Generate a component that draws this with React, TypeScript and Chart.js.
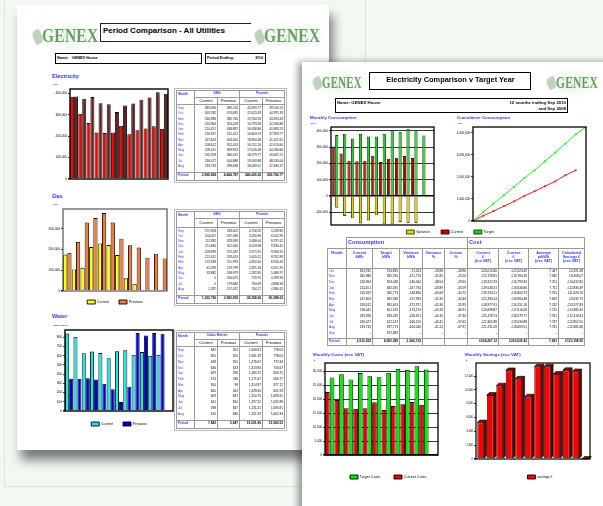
import React, { useEffect, useRef } from "react";
import { Chart, registerables } from "chart.js";
Chart.register(...registerables);

// ================= DATA =================
// Left page – Period Comparison
const utilMonths = ["Sep", "Oct", "Nov", "Dec", "Jan", "Feb", "Mar", "Apr", "May", "Jun", "Jul", "Aug"];
const utilAxisLabels = ["9/09", "10/09", "11/09", "12/09", "1/10", "2/10", "3/10", "4/10", "5/10", "6/10", "7/10", "8/10"];
const waterAxisLabels = ["9/09", "10/09", "11/09", "12/09", "1/10", "2/10", "3/10", "4/10", "5/10", "6/10", "7/10", "8/10", "9/10"];

const elecCurrent = [383566, 303782, 260986, 216964, 214451, 216947, 247603, 208612, 228041, 235928, 246027, 233733];
const elecPrevious = [385216, 374835, 382760, 353028, 348887, 312412, 343300, 352453, 369953, 380031, 404884, 396838];
const elecPoundsCurrent = [45990.77, 22623.49, 19764.18, 16793.33, 16636.86, 16803.73, 18964.48, 16151.16, 17616.08, 18279.77, 19034.88, 18069.01];
const elecPoundsPrevious = [39556.13, 44991.33, 43494.43, 42266.88, 41893.23, 37909.77, 41421.61, 42413.6, 44280.84, 45647.21, 48530.06, 47480.37];
const elecTotals = ["2,995,808", "4,404,787", "246,629.20", "505,766.77"];

const gasCurrent = [175908, 104007, 111982, 211866, 228969, 221611, 172948, 61099, 33882, 0, 0, 1287];
const gasPrevious = [183605, 237080, 329369, 351060, 375187, 329453, 251993, 219799, 208979, 160675, 179682, 157037];
const gasPoundsCurrent = [4756.59, 3230.96, 3368.04, 6019.68, 5971.91, 5620.11, 4692.6, 1691.33, 1282.85, 719.7, 763.69, 764.17];
const gasPoundsPrevious = [5239.85, 6502.96, 8797.42, 9330.45, 9946.31, 8702.98, 6916.43, 6651.95, 5486.97, 4399.33, 4838.34, 4380.45];
const gasTotals = ["1,322,790", "2,983,835", "38,258.66", "80,288.63"];

const waterCurrent = [842, 805, 628, 646, 629, 574, 650, 660, 609, 641, 598, 610];
const waterPrevious = [350, 350, 355, 343, 296, 236, 98, 264, 847, 820, 847, 840];
const waterPoundsCurrent = [1608.31, 1581.19, 1276.67, 1313.9, 1280.72, 1171.67, 1314.97, 1328.35, 1250.75, 1297.22, 1231.31, 1251.59];
const waterPoundsPrevious = [778.03, 778.03, 772.34, 756.67, 656.75, 566.77, 377.12, 661.93, 1690.91, 1635.98, 1690.91, 1662.33];
const waterTotals = ["7,882", "5,687", "15,001.80", "12,060.53"];

const elecTicks = [0, 100000, 200000, 300000, 400000];
const gasTicks = [0, 100000, 200000, 300000];
const waterTicks = [0, 100, 200, 300, 400, 500, 600, 700, 800];

// Right page – Electricity Comparison v Target Year
const targetMonths = ["Oct", "Nov", "Dec", "Jan", "Feb", "Mar", "Apr", "May", "Jun", "Jul", "Aug", "Sep"];
const targetAxisLabels = ["10/09", "11/09", "12/09", "1/10", "2/10", "3/10", "4/10", "5/10", "6/10", "7/10", "8/10", "9/10"];
const consumptionAxisLabels = ["10/09", "11/09", "12/09", "1/10", "2/10", "3/10", "4/10", "5/10", "6/10", "7/10", "8/10", "9/10", "10/10"];

const currentKwh = [303782, 260986, 216964, 214451, 216947, 247603, 208612, 228041, 235928, 246027, 233733, null];
const targetKwh = [374835, 382760, 353028, 382185, 365773, 365536, 381403, 401315, 394249, 412147, 397773, 372383];
const varianceKwh = [-71053, -121774, -136064, -167734, -148826, -117933, -172791, -173274, -158321, -166120, -164040, null];
const variancePct = [-18.96, -31.82, -38.54, -43.89, -40.69, -32.26, -45.3, -43.18, -40.16, -40.31, -41.24, null];
const cusumPct = [-18.96, -25.5, -29.65, -33.29, -34.75, -34.34, -35.95, -36.91, -37.3, -37.62, -37.97, null];
const costIncVat = [26015.8, 22728.81, 19312.33, 19548.31, 19743.21, 22283.24, 18977.61, 20698.87, 21478.73, 22365.98, 21231.09, null];
const costExcVat = [22623.49, 19764.18, 16793.33, 16636.86, 16803.73, 18964.48, 16151.16, 17616.08, 18279.77, 19034.88, 18069.01, null];
const avgPence = [7.447, 7.585, 7.701, 7.711, 7.755, 7.659, 7.742, 7.725, 7.761, 7.737, 7.731, null];
const savings = [5291.28, 9268.07, 10632.81, 12836.39, 11626.7, 9032.73, 13377.83, 13385.34, 12318.43, 12852.55, 12681.68, null];
const targetTotals = ["2,612,262", "4,583,389", "-1,966,732", "", "", "£234,267.12", "£200,635.43", "7.681", "£123,198.95"];

const targetCosts = [27914, 29032, 27187, 29470, 28366, 27997, 29528, 31001, 30598, 31888, 30752, null];

const cumLabels = ["10/09", "11/09", "12/09", "1/10", "2/10", "3/10", "4/10", "5/10", "6/10", "7/10", "8/10", "9/10"];
const cumTarget = [0, 410000, 790000, 1170000, 1550000, 1950000, 2300000, 2710000, 3110000, 3520000, 3940000, 4270000];
const cumCurrent = [0, 240000, 450000, 670000, 890000, 1140000, 1350000, 1580000, 1800000, 2080000, 2300000, null];

const consumptionTicks = [-100000, 0, 100000, 200000, 300000, 400000];
const cumTicks = [0, 1000000, 2000000, 3000000, 4000000];
const costTicks = [0, 5000, 10000, 15000, 20000, 25000, 30000];
const savingTicks = [0, 2000, 4000, 6000, 8000, 10000, 12000];

// ================= HELPERS =================
const SANS = '"Liberation Sans", Arial, sans-serif';
const BLUE = "#3535ff";
const nf0 = new Intl.NumberFormat("en-GB", { maximumFractionDigits: 0 });
const nf2 = new Intl.NumberFormat("en-GB", { minimumFractionDigits: 2, maximumFractionDigits: 2 });
const nf3 = new Intl.NumberFormat("en-GB", { minimumFractionDigits: 3, maximumFractionDigits: 3 });

const framePlugin = {
  id: "frame",
  afterDraw(chart: any, _a: any, opts: any) {
    if (!opts || !opts.color) return;
    const { left, top, right, bottom } = chart.chartArea;
    const ctx = chart.ctx;
    ctx.save();
    ctx.strokeStyle = opts.color;
    ctx.lineWidth = opts.width || 1;
    ctx.strokeRect(left, top, right - left, bottom - top);
    ctx.restore();
  },
};

const legendPlace = {
  id: "legendPlace",
  afterLayout(chart: any, _a: any, opts: any) {
    const lg = chart.legend;
    if (!lg || !opts || opts.cx == null) return;
    const lo = lg.options.labels;
    const fs = (lo.font && lo.font.size) || 4;
    const itemH = Math.max(fs, lo.boxHeight || fs);
    const dx = opts.cx - (lg.left + lg.right) / 2;
    const dy = opts.cy - (lg.top + lo.padding + itemH / 2);
    lg.left += dx;
    lg.right += dx;
    lg.top += dy;
    lg.bottom += dy;
  },
};

const bar3d = {
  id: "bar3d",
  afterDatasetsDraw(chart: any, _a: any, opts: any) {
    if (!opts || !opts.depth) return;
    const meta = chart.getDatasetMeta(0);
    const ctx = chart.ctx;
    const d = opts.depth;
    ctx.save();
    ctx.strokeStyle = "#000";
    ctx.lineWidth = 0.6;
    meta.data.forEach((bar: any) => {
      const { x, y, base, width } = bar.getProps(["x", "y", "base", "width"], true);
      if (y == null || isNaN(y)) return;
      const l = x - width / 2;
      const r = x + width / 2;
      ctx.fillStyle = opts.top;
      ctx.beginPath();
      ctx.moveTo(l, y);
      ctx.lineTo(l + d, y - d);
      ctx.lineTo(r + d, y - d);
      ctx.lineTo(r, y);
      ctx.closePath();
      ctx.fill();
      ctx.stroke();
      ctx.fillStyle = opts.side;
      ctx.beginPath();
      ctx.moveTo(r, y);
      ctx.lineTo(r + d, y - d);
      ctx.lineTo(r + d, base - d);
      ctx.lineTo(r, base);
      ctx.closePath();
      ctx.fill();
      ctx.stroke();
    });
    ctx.restore();
  },
};

Chart.register(framePlugin, legendPlace, bar3d);

type AxisOpts = {
  labels: string[];
  every: number; // 1 = every label, 2 = odd indexes
  yTicks: number[];
  yMin: number;
  yMax: number;
  yw: number;
  xh: number;
  fs: number;
  grid?: boolean;
  stacked?: boolean;
};

function makeScales(o: AxisOpts) {
  return {
    x: {
      offset: true,
      stacked: !!o.stacked,
      grid: { display: false },
      border: { display: false },
      ticks: {
        autoSkip: false,
        maxRotation: 0,
        minRotation: 0,
        padding: 1,
        color: "#000",
        font: { size: o.fs, family: SANS },
        callback: (_v: any, i: number) => (o.every === 1 || i % 2 === 1 ? o.labels[i] : ""),
      },
      afterFit: (s: any) => {
        s.height = o.xh;
      },
    },
    y: {
      min: o.yMin,
      max: o.yMax,
      stacked: !!o.stacked,
      afterBuildTicks: (s: any) => {
        s.ticks = o.yTicks.map((v) => ({ value: v }));
      },
      grid: {
        display: true,
        drawOnChartArea: !!o.grid,
        drawTicks: true,
        tickLength: 2,
        color: "#000",
        lineWidth: (c: any) => (c.tick && c.tick.value === 0 ? 1.4 : 0.8),
      },
      border: { display: false },
      ticks: {
        padding: 1,
        color: "#000",
        font: { size: o.fs, family: SANS },
        callback: (v: any) => nf0.format(Number(v)),
      },
      afterFit: (s: any) => {
        s.width = o.yw;
      },
    },
  };
}

function legendOpts(cx: number, cy: number, pad: number, fs = 4) {
  return {
    legend: {
      display: true,
      position: "bottom",
      labels: { boxWidth: 8, boxHeight: 4, padding: pad, color: "#000", font: { size: fs, family: SANS } },
    },
    legendPlace: { cx, cy },
  };
}

function ChartBox({ x, y, w, h, config }: { x: number; y: number; w: number; h: number; config: any }) {
  const ref = useRef<HTMLCanvasElement>(null);
  useEffect(() => {
    const chart = new Chart(ref.current as HTMLCanvasElement, config);
    return () => chart.destroy();
  }, []);
  return (
    <div style={{ position: "absolute", left: x, top: y, width: w, height: h }}>
      <canvas ref={ref} width={w} height={h} style={{ width: w, height: h, display: "block" }} />
    </div>
  );
}

function barDs(label: string, data: any[], bg: string, border = "#000", extra: any = {}) {
  return { label, data, backgroundColor: bg, borderColor: border, borderWidth: 0.9, ...extra };
}

function baseOptions(scales: any, padding: any, plugins: any) {
  return {
    responsive: false,
    maintainAspectRatio: false,
    animation: false,
    layout: { padding },
    scales,
    plugins: { tooltip: { enabled: false }, ...plugins },
  };
}

// ---------- chart configs ----------
const pairBars = { categoryPercentage: 0.97, barPercentage: 1.0 };

const elecConfig = {
  type: "bar",
  data: {
    labels: utilAxisLabels,
    datasets: [barDs("Current", elecCurrent, "#ff0000", "#000", pairBars), barDs("Previous", elecPrevious, "#642222", "#000", pairBars)],
  },
  options: baseOptions(
    makeScales({ labels: utilAxisLabels, every: 2, yTicks: elecTicks, yMin: 0, yMax: 420000, yw: 26, xh: 7, fs: 3.2 }),
    { top: 3, right: 4, left: 0, bottom: 0 },
    { legend: { display: false }, frame: { color: "#000", width: 1.4 } }
  ),
};

const gasConfig = {
  type: "bar",
  data: {
    labels: utilAxisLabels,
    datasets: [barDs("Current", gasCurrent, "#ffff00", "#000", pairBars), barDs("Previous", gasPrevious, "#f47a3c", "#000", pairBars)],
  },
  options: baseOptions(
    makeScales({ labels: utilAxisLabels, every: 2, yTicks: gasTicks, yMin: 0, yMax: 395000, yw: 23, xh: 7, fs: 3.2 }),
    { top: 5, right: 5, left: 0, bottom: 0 },
    { ...legendOpts(75, 98, 10, 3.6), frame: { color: "#555", width: 1.2 } }
  ),
};

const waterConfig = {
  type: "bar",
  data: {
    labels: waterAxisLabels,
    datasets: [barDs("Current", waterCurrent, "#1fe6e6", "#000", pairBars), barDs("Previous", waterPrevious, "#0000e0", "#000", pairBars)],
  },
  options: baseOptions(
    makeScales({ labels: waterAxisLabels, every: 2, yTicks: waterTicks, yMin: 0, yMax: 880, yw: 23, xh: 7, fs: 3.2 }),
    { top: 5, right: 3, left: 0, bottom: 0 },
    { ...legendOpts(77, 99, 10, 3.6), frame: { color: "#000", width: 1.4 } }
  ),
};

const consBars = { categoryPercentage: 0.9, barPercentage: 0.9 };
const consumptionConfig = {
  type: "bar",
  data: {
    labels: consumptionAxisLabels,
    datasets: [
      barDs("Current", currentKwh, "#c00000", "#3a0000", { ...consBars, stack: "cur" }),
      barDs("Target", targetKwh, "#22cc22", "#004400", { ...consBars, stack: "tgt" }),
      barDs("Variance", varianceKwh, "#d6d600", "#3a3a00", { ...consBars, stack: "tgt" }),
    ],
  },
  options: baseOptions(
    makeScales({
      labels: consumptionAxisLabels,
      every: 2,
      yTicks: consumptionTicks,
      yMin: -177000,
      yMax: 424000,
      yw: 25,
      xh: 6,
      fs: 3.2,
      grid: true,
      stacked: true,
    }),
    { top: 5, right: 76, left: 0, bottom: 0 },
    {
      legend: {
        display: true,
        position: "bottom",
        labels: {
          boxWidth: 8,
          boxHeight: 4,
          padding: 11,
          color: "#000",
          font: { size: 3.6, family: SANS },
          sort: (a: any, b: any) => {
            const order = ["Variance", "Current", "Target"];
            return order.indexOf(a.text) - order.indexOf(b.text);
          },
        },
      },
      legendPlace: { cx: 144, cy: 110 },
      frame: { color: "#000", width: 1.3 },
    }
  ),
};

const cumulativeConfig = {
  type: "line",
  data: {
    labels: cumLabels,
    datasets: [
      {
        label: "Target",
        data: cumTarget,
        borderColor: "#22ee22",
        backgroundColor: "#22ee22",
        borderWidth: 1,
        pointStyle: "rect",
        pointRadius: (c: any) => (c.dataIndex === 0 ? 0 : 1.3),
        pointBorderWidth: 0,
      },
      {
        label: "Current",
        data: cumCurrent,
        borderColor: "#ee2222",
        backgroundColor: "#ee2222",
        borderWidth: 1,
        pointStyle: "rect",
        pointRadius: (c: any) => (c.dataIndex === 0 ? 0 : 1.3),
        pointBorderWidth: 0,
      },
    ],
  },
  options: (() => {
    const sc: any = makeScales({ labels: cumLabels, every: 2, yTicks: cumTicks, yMin: 0, yMax: 4270000, yw: 23, xh: 7, fs: 3 });
    sc.x.offset = false;
    return baseOptions(sc, { top: 5, right: 4, left: 0, bottom: 0 }, { legend: { display: false }, frame: { color: "#000", width: 1.3 } });
  })(),
};

const costsConfig = {
  type: "bar",
  data: {
    labels: targetAxisLabels,
    datasets: [
      barDs("Current Costs", costExcVat, "#ee0000", "#000", { categoryPercentage: 1.0, barPercentage: 0.98 }),
      barDs("Target Costs", targetCosts, "#00ee00", "#000", { categoryPercentage: 1.0, barPercentage: 0.98 }),
    ],
  },
  options: baseOptions(
    makeScales({ labels: targetAxisLabels, every: 2, yTicks: costTicks, yMin: 0, yMax: 33100, yw: 20, xh: 6, fs: 3, grid: true }),
    { top: 5, right: 5, left: 0, bottom: 0 },
    {
      legend: {
        display: true,
        position: "bottom",
        reverse: true,
        labels: { boxWidth: 8, boxHeight: 4, padding: 14, color: "#000", font: { size: 3.6, family: SANS } },
      },
      legendPlace: { cx: 83, cy: 119 },
      frame: { color: "#000", width: 1.3 },
    }
  ),
};

const savingsConfig = {
  type: "bar",
  data: {
    labels: targetAxisLabels,
    datasets: [barDs("savings £", savings, "#ff0000", "#000", { categoryPercentage: 1.0, barPercentage: 0.72 })],
  },
  options: baseOptions(
    makeScales({ labels: targetAxisLabels, every: 1, yTicks: savingTicks, yMin: 0, yMax: 13900, yw: 21, xh: 6, fs: 2.6 }),
    { top: 5, right: 5, left: 0, bottom: 0 },
    {
      ...legendOpts(85, 119, 10, 3.6),
      frame: { color: "#000", width: 1.2 },
      bar3d: { depth: 2.4, top: "#a00000", side: "#6a0000" },
    }
  ),
};

// ================= HTML PIECES =================
function Txt({ x, y, s, children, bold, color = "#000", align = "left", w, family = SANS }: any) {
  const style: any = {
    position: "absolute",
    top: y,
    fontSize: s,
    lineHeight: 1,
    fontWeight: bold ? 700 : 400,
    color,
    fontFamily: family,
    whiteSpace: "nowrap",
  };
  if (align === "right") {
    style.right = 603 - x;
  } else if (align === "center") {
    style.left = x;
    style.width = w;
    style.textAlign = "center";
  } else style.left = x;
  return <div style={style}>{children}</div>;
}

function Logo({ x, y, fs, sx }: { x: number; y: number; fs: number; sx: number }) {
  return (
    <div style={{ position: "absolute", left: x, top: y }}>
      <div
        style={{
          position: "absolute",
          left: -12,
          top: -7,
          width: fs * 3.4 * sx + 22,
          height: fs + 14,
          background: "radial-gradient(ellipse at center, rgba(215,230,212,0.6) 0%, rgba(238,244,236,0.35) 55%, rgba(255,255,255,0) 75%)",
        }}
      />
      <div
        style={{
          position: "absolute",
          left: -9,
          top: fs * 0.15,
          width: 9,
          height: fs * 0.75,
          borderRadius: "50% 0 50% 0",
          background: "rgba(90,130,80,0.35)",
          transform: "rotate(-25deg)",
          filter: "blur(0.6px)",
        }}
      />
      <div
        style={{
          position: "relative",
          fontFamily: '"Liberation Serif", "DejaVu Serif", serif',
          fontWeight: 700,
          fontSize: fs,
          lineHeight: 1,
          color: "#4e8a46",
          opacity: 0.82,
          transform: `scaleX(${sx})`,
          transformOrigin: "left top",
          filter: "blur(0.35px)",
          letterSpacing: 0.3,
          whiteSpace: "nowrap",
        }}
      >
        GENEX
      </div>
    </div>
  );
}

const cellBorder = "1px solid #9a9a9a";

function UtilTable({
  x,
  y,
  unit,
  cur,
  prev,
  pCur,
  pPrev,
  totals,
  rowH,
  h2,
}: {
  x: number;
  y: number;
  unit: string;
  cur: number[];
  prev: number[];
  pCur: number[];
  pPrev: number[];
  totals: string[];
  rowH: number;
  h2: number;
}) {
  const widths = [18, 23, 22, 23, 22];
  const base: any = { padding: "0 1px", fontFamily: SANS, lineHeight: 1, overflow: "hidden", whiteSpace: "nowrap" };
  const vb = { borderLeft: cellBorder, borderRight: cellBorder };
  return (
    <table
      style={{
        position: "absolute",
        left: x,
        top: y,
        borderCollapse: "collapse",
        tableLayout: "fixed",
        width: widths.reduce((a, b) => a + b, 0),
        border: "1px solid #888",
        outline: "1px solid #bbb",
        outlineOffset: 1,
      }}
    >
      <colgroup>
        {widths.map((w, i) => (
          <col key={i} style={{ width: w }} />
        ))}
      </colgroup>
      <tbody>
        <tr style={{ height: 7 }}>
          <td rowSpan={2} style={{ ...base, border: cellBorder, verticalAlign: "top", color: BLUE, fontWeight: 700, fontSize: 3.3, paddingTop: 2 }}>
            Month
          </td>
          <td colSpan={2} style={{ ...base, border: cellBorder, textAlign: "center", color: BLUE, fontWeight: 700, fontSize: 3.3 }}>
            {unit}
          </td>
          <td colSpan={2} style={{ ...base, border: cellBorder, textAlign: "center", color: BLUE, fontWeight: 700, fontSize: 3.3 }}>
            Pounds
          </td>
        </tr>
        <tr style={{ height: h2 }}>
          {["Current", "Previous", "Current", "Previous"].map((t, i) => (
            <td key={i} style={{ ...base, border: cellBorder, textAlign: "center", fontSize: 4 }}>
              {t}
            </td>
          ))}
        </tr>
        <tr style={{ height: 1.5 }}>
          {widths.map((_, i) => (
            <td key={i} style={{ ...vb, padding: 0 }} />
          ))}
        </tr>
        {utilMonths.map((m, r) => (
          <tr key={m} style={{ height: rowH }}>
            <td style={{ ...base, ...vb, color: BLUE, fontSize: 3.2 }}>{m}</td>
            <td style={{ ...base, ...vb, textAlign: "right", fontSize: 3.1 }}>{nf0.format(cur[r])}</td>
            <td style={{ ...base, ...vb, textAlign: "right", fontSize: 3.1 }}>{nf0.format(prev[r])}</td>
            <td style={{ ...base, ...vb, textAlign: "right", fontSize: 3.1 }}>{nf2.format(pCur[r])}</td>
            <td style={{ ...base, ...vb, textAlign: "right", fontSize: 3.1 }}>{nf2.format(pPrev[r])}</td>
          </tr>
        ))}
        <tr style={{ height: 3 }}>
          {widths.map((_, i) => (
            <td key={i} style={{ ...vb, padding: 0 }} />
          ))}
        </tr>
        <tr style={{ height: 8 }}>
          <td style={{ ...base, border: cellBorder, color: BLUE, fontWeight: 700, fontSize: 3.3 }}>Period</td>
          {totals.map((t, i) => (
            <td key={i} style={{ ...base, border: cellBorder, textAlign: "right", fontWeight: 700, fontSize: 3.2 }}>
              {t}
            </td>
          ))}
        </tr>
      </tbody>
    </table>
  );
}

function TargetTable({ x, y }: { x: number; y: number }) {
  const widths = [19, 26, 27, 23, 22, 23, 31, 30, 30, 26];
  const base: any = { padding: "0 1px", fontFamily: SANS, lineHeight: 1, overflow: "hidden", whiteSpace: "nowrap" };
  const vb = { borderLeft: cellBorder, borderRight: cellBorder };
  const heads = [
    ["Month"],
    ["Current", "kWh"],
    ["Target", "kWh"],
    ["Variance", "kWh"],
    ["Variance", "%"],
    ["Cusum", "%"],
    ["Current", "£", "(inc VAT)"],
    ["Current", "£", "(exc VAT)"],
    ["Average", "p/kWh", "(exc VAT)"],
    ["Calculated", "Savings £", "(exc VAT)"],
  ];
  const fmtOrDash = (v: number | null, f: (n: number) => string) => (v == null ? "-" : f(v));
  const pound = (n: number) => "£" + nf2.format(n);
  return (
    <table
      style={{
        position: "absolute",
        left: x,
        top: y,
        borderCollapse: "collapse",
        tableLayout: "fixed",
        width: widths.reduce((a, b) => a + b, 0),
      }}
    >
      <colgroup>
        {widths.map((w, i) => (
          <col key={i} style={{ width: w }} />
        ))}
      </colgroup>
      <tbody>
        <tr style={{ height: 11 }}>
          <td style={{ padding: 0 }} />
          <td colSpan={5} style={{ ...base, border: cellBorder, color: BLUE, fontWeight: 700, fontSize: 5.6, paddingLeft: 1 }}>
            Consumption
          </td>
          <td colSpan={4} style={{ ...base, border: cellBorder, color: BLUE, fontWeight: 700, fontSize: 5.6, paddingLeft: 1 }}>
            Cost
          </td>
        </tr>
        <tr style={{ height: 20 }}>
          {heads.map((lines, i) => (
            <td
              key={i}
              style={{
                ...base,
                border: cellBorder,
                color: BLUE,
                fontWeight: 700,
                fontSize: 3.8,
                textAlign: "center",
                verticalAlign: "top",
                paddingTop: 1.5,
                lineHeight: 1.15,
                whiteSpace: "normal",
              }}
            >
              {lines.map((l, j) => (
                <div key={j}>{l}</div>
              ))}
            </td>
          ))}
        </tr>
        {targetMonths.map((m, r) => (
          <tr key={m} style={{ height: 5.66 }}>
            <td style={{ ...base, ...vb, color: BLUE, fontSize: 3.3 }}>{m}</td>
            <td style={{ ...base, ...vb, textAlign: "right", fontSize: 3.1 }}>{fmtOrDash(currentKwh[r], (n) => nf0.format(n))}</td>
            <td style={{ ...base, ...vb, textAlign: "right", fontSize: 3.1 }}>{nf0.format(targetKwh[r])}</td>
            <td style={{ ...base, ...vb, textAlign: "right", fontSize: 3.1 }}>{fmtOrDash(varianceKwh[r], (n) => nf0.format(n))}</td>
            <td style={{ ...base, ...vb, textAlign: "right", fontSize: 3.1 }}>{fmtOrDash(variancePct[r], (n) => nf2.format(n))}</td>
            <td style={{ ...base, ...vb, textAlign: "right", fontSize: 3.1 }}>{fmtOrDash(cusumPct[r], (n) => nf2.format(n))}</td>
            <td style={{ ...base, ...vb, textAlign: "right", fontSize: 3.1 }}>{fmtOrDash(costIncVat[r], pound)}</td>
            <td style={{ ...base, ...vb, textAlign: "right", fontSize: 3.1 }}>{fmtOrDash(costExcVat[r], pound)}</td>
            <td style={{ ...base, ...vb, textAlign: "right", fontSize: 3.1 }}>{fmtOrDash(avgPence[r], (n) => nf3.format(n))}</td>
            <td style={{ ...base, ...vb, textAlign: "right", fontSize: 3.1 }}>{fmtOrDash(savings[r], pound)}</td>
          </tr>
        ))}
        <tr style={{ height: 2 }}>
          {widths.map((_, i) => (
            <td key={i} style={{ ...vb, padding: 0 }} />
          ))}
        </tr>
        <tr style={{ height: 7 }}>
          <td style={{ ...base, border: cellBorder, color: BLUE, fontWeight: 700, fontSize: 3.4 }}>Period</td>
          {targetTotals.map((t, i) => (
            <td key={i} style={{ ...base, border: cellBorder, textAlign: "right", fontWeight: 700, fontSize: 3.2 }}>
              {t}
            </td>
          ))}
        </tr>
      </tbody>
    </table>
  );
}

// ================= APP =================
export default function App() {
  return (
    <div
      style={{
        position: "fixed",
        left: 0,
        top: 0,
        width: 603,
        height: 506,
        overflow: "hidden",
        background: "#f3f8f3",
        fontFamily: SANS,
      }}
    >
      {/* faint frame */}
      <div style={{ position: "absolute", left: 4, top: -2, width: 360, height: 487, border: "1px solid #d5ead5" }} />

      {/* ---------- LEFT PAGE ---------- */}
      <div
        style={{
          position: "absolute",
          left: 17,
          top: 5,
          width: 312,
          height: 445,
          background: "#fff",
          boxShadow: "4px 10px 10px rgba(0,0,0,0.5)",
        }}
      />
      <Logo x={42} y={27} fs={18} sx={0.86} />
      <div
        style={{
          position: "absolute",
          left: 100,
          top: 23,
          width: 150,
          height: 17,
          borderTop: "1.5px solid #222",
          borderBottom: "1.5px solid #222",
          borderLeft: "1.5px solid #222",
        }}
      />
      <Txt x={103} y={27} s={8} bold>
        Period Comparison - All Utilities
      </Txt>
      <Logo x={264} y={27} fs={18} sx={0.86} />

      <div style={{ position: "absolute", left: 55, top: 53, width: 145, height: 9, border: "1.3px solid #000" }} />
      <Txt x={57} y={56.5} s={3.8} bold>
        Name:&nbsp;&nbsp; GENEX House
      </Txt>
      <div style={{ position: "absolute", left: 205, top: 53, width: 59, height: 9, border: "1.3px solid #000" }} />
      <Txt x={207} y={56.5} s={3.8} bold>
        Period Ending:
      </Txt>
      <Txt x={263} y={56.5} s={3.8} bold align="right">
        8/10
      </Txt>

      <Txt x={52} y={74} s={5.6} bold color={BLUE}>
        Electricity
      </Txt>
      <Txt x={53} y={84} s={2.4}>
        kWh
      </Txt>
      <ChartBox x={44} y={86} w={128} h={100} config={elecConfig} />
      <UtilTable
        x={176}
        y={90}
        unit="kWh"
        cur={elecCurrent}
        prev={elecPrevious}
        pCur={elecPoundsCurrent}
        pPrev={elecPoundsPrevious}
        totals={elecTotals}
        rowH={5.25}
        h2={7}
      />

      <Txt x={52} y={194} s={5.6} bold color={BLUE}>
        Gas
      </Txt>
      <Txt x={53} y={204} s={2.4}>
        kWh
      </Txt>
      <ChartBox x={40} y={204} w={132} h={118} config={gasConfig} />
      <UtilTable
        x={176}
        y={211}
        unit="kWh"
        cur={gasCurrent}
        prev={gasPrevious}
        pCur={gasPoundsCurrent}
        pPrev={gasPoundsPrevious}
        totals={gasTotals}
        rowH={5.3}
        h2={8.5}
      />

      <Txt x={52} y={314} s={5.6} bold color={BLUE}>
        Water
      </Txt>
      <Txt x={53} y={325} s={2.4}>
        Cubic Metres
      </Txt>
      <ChartBox x={42} y={325} w={134} h={117} config={waterConfig} />
      <UtilTable
        x={176}
        y={332}
        unit="Cubic Metres"
        cur={waterCurrent}
        prev={waterPrevious}
        pCur={waterPoundsCurrent}
        pPrev={waterPoundsPrevious}
        totals={waterTotals}
        rowH={5.76}
        h2={7}
      />

      {/* ---------- RIGHT PAGE ---------- */}
      <div
        style={{
          position: "absolute",
          left: 302,
          top: 62,
          width: 320,
          height: 460,
          background: "#fff",
          boxShadow: "-4px 0 7px rgba(0,0,0,0.4)",
        }}
      />
      <Logo x={322} y={75} fs={16} sx={0.68} />
      <div style={{ position: "absolute", left: 369, top: 72, width: 160, height: 16, border: "1.5px solid #000" }} />
      <Txt x={369} y={76} s={7.4} bold align="center" w={163}>
        Electricity Comparison v Target Year
      </Txt>
      <Logo x={556} y={75} fs={16} sx={0.72} />

      <div style={{ position: "absolute", left: 335, top: 98, width: 231, height: 13, border: "1.5px solid #000" }} />
      <Txt x={337} y={100.5} s={4.3} bold>
        Name: GENEX House
      </Txt>
      <Txt x={566} y={100.5} s={4.3} bold align="right">
        12 months ending Sep 2010
      </Txt>
      <Txt x={566} y={106.5} s={4.3} bold align="right">
        and Sep 2008
      </Txt>

      <Txt x={310} y={116} s={4.4} bold color={BLUE}>
        Monthly Consumption
      </Txt>
      <Txt x={311} y={121.5} s={2.2}>
        kWh
      </Txt>
      <Txt x={457} y={116} s={4.4} bold color={BLUE}>
        Cumulative Consumption
      </Txt>
      <Txt x={458} y={121.5} s={2.2}>
        kWh
      </Txt>
      <ChartBox x={306} y={122} w={204} h={134} config={consumptionConfig} />
      <ChartBox x={450} y={122} w={140} h={106} config={cumulativeConfig} />

      <TargetTable x={327} y={237} />

      <Txt x={313} y={353} s={4.4} bold color={BLUE}>
        Monthly Costs (exc VAT)
      </Txt>
      <Txt x={314} y={359.5} s={2.4}>
        £
      </Txt>
      <Txt x={465} y={353} s={4.4} bold color={BLUE}>
        Monthly Savings (exc VAT)
      </Txt>
      <Txt x={466} y={359.5} s={2.4}>
        £
      </Txt>
      <ChartBox x={305} y={358} w={138} h={131} config={costsConfig} />
      <ChartBox x={455} y={358} w={140} h={131} config={savingsConfig} />
    </div>
  );
}
